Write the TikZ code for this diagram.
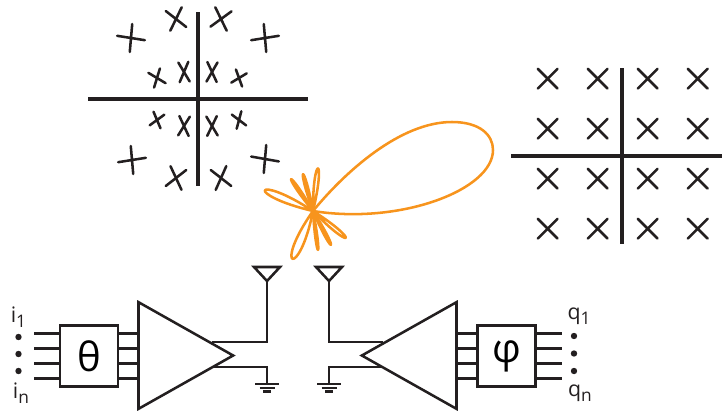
\documentclass[tikz,border=0pt]{standalone}
\usepackage{fontspec}
\setmainfont{Open Sans}
\usetikzlibrary{positioning,shapes.geometric,calc}
\definecolor{ink}{RGB}{35,31,32}
\definecolor{lobeorange}{RGB}{247,148,29}
\newcommand{\portlabel}[2]{#1\raisebox{-4pt}{\fontsize{13}{14}\selectfont #2}}
\tikzset{
  wire/.style={draw=ink,line width=1.9pt},
  axisline/.style={draw=ink,line width=2.8pt},
  crossmark/.style={draw=ink,line width=1.9pt,line cap=round},
  lobe/.style={draw=lobeorange,line width=1.9pt,line join=round},
  blockbox/.style={draw=ink,line width=1.9pt,minimum width=43.5pt,minimum height=45.5pt,
    inner sep=0pt,outer sep=0pt,font=\fontsize{30}{32}\selectfont},
  ampbox/.style={draw=ink,line width=1.9pt,isosceles triangle,isosceles triangle stretches,
    minimum width=80pt,minimum height=71pt,inner sep=0pt,outer sep=0pt},
  antbox/.style={draw=ink,line width=1.9pt,isosceles triangle,isosceles triangle stretches,
    shape border rotate=-90,minimum width=19.5pt,minimum height=10.5pt,inner sep=0pt,outer sep=0pt},
  portdot/.style={circle,fill=ink,inner sep=0pt,minimum size=4.8pt},
  portlab/.style={inner sep=0pt,font=\fontsize{16}{18}\selectfont,text=ink},
}
\begin{document}
\begin{tikzpicture}[x=0.75pt,y=-0.75pt]
  \useasboundingbox (0,0) rectangle (722,411);
  % rotated constellation
  \draw[axisline] (88,99) -- (308,99);
  \draw[axisline] (198,12) -- (198,186);
  \foreach \cx/\cy/\angA/\angB/\len in {
      131/38/9/95/14, 176/19/38/116/13, 221/19/144/64/13, 265/38/-9/85/14,
      132/160/-9/85/14, 176/178/142/65/13, 221/178/38/114/13, 265/159/10/95/14,
      157/78/31/107/10, 184/72/59/113/11, 212/72/65/120/11, 239/78/-31/70/9,
      157/120/-36/67/9, 184/126/122/65/11, 212/126/116/59/11, 239/120/37/105/9}
    \draw[crossmark,shift={(\cx,\cy)}] (\angA:\len) -- (\angA+180:\len)
      (\angB:\len) -- (\angB+180:\len);
  % square constellation
  \draw[axisline] (511,156) -- (722,156);
  \draw[axisline] (622,68) -- (622,244);
  \foreach \cx in {547.7,597.7,647.7,697.7}
    \foreach \cy in {78.7,128.7,178.7,228.7}
      \draw[crossmark,shift={(\cx,\cy)}] (45:14) -- (225:14) (135:14) -- (315:14);
  % radiation pattern
  \coordinate (lobecentre) at (313,211);
  \draw[lobe] (lobecentre) .. controls (345,172) and (400,122) .. (452,122)
    .. controls (480,122) and (493,135) .. (493,150)
    .. controls (493,190) and (400,225) .. (lobecentre);
  \foreach \tipx/\tipy/\ang in {264/190/10, 291/179/5, 303/174/5, 318/168/7,
      346/238/7, 331/245/5, 318/250/4, 292/260/12}
    \draw[lobe] (lobecentre) .. controls ($(lobecentre)!1.33!\ang:(\tipx,\tipy)$)
      and ($(lobecentre)!1.33!-\ang:(\tipx,\tipy)$) .. (lobecentre);
  % transmitter
  \node[blockbox] (thetabox) at (89,356) {θ};
  \node[ampbox,anchor=lower side] (txamp) at (138.5,355.5) {};
  \node[antbox,anchor=apex] (txant) at (267,281) {};
  \coordinate (txgnd) at (267,384);
  \foreach \off in {-22.5,-7.5,7.5,22.5} {
    \draw[wire] ($(thetabox.west)+(-26,\off)$) -- ($(thetabox.west)+(0,\off)$);
    \draw[wire] ($(thetabox.east)+(0,\off)$) -- ($(thetabox.east)+(21,\off)$);
  }
  \draw[wire] ($(txamp.apex)+(-21,-13.5)$) -| (txant.apex);
  \draw[wire] ($(txamp.apex)+(-21,11.5)$) -| (txgnd);
  \draw[wire] ($(txgnd)+(-12,0)$) -- ($(txgnd)+(12,0)$)
    ($(txgnd)+(-7.5,4)$) -- ($(txgnd)+(7.5,4)$)
    ($(txgnd)+(-4,7.5)$) -- ($(txgnd)+(4,7.5)$);
  \node[portlab] (ione) at (18.5,317) {\portlabel{i}{1}};
  \node[portdot] (idota) at (18.5,337) {};
  \node[portdot] (idotb) at (18.5,354) {};
  \node[portdot] (idotc) at (18.5,371) {};
  \node[portlab] (inn) at (21,393) {\portlabel{i}{n}};
  % receiver
  \node[blockbox] (phibox) at (506.5,356) {φ};
  \node[ampbox,shape border rotate=180,anchor=lower side] (rxamp) at (456.5,355.5) {};
  \node[antbox,anchor=apex] (rxant) at (329,281) {};
  \coordinate (rxgnd) at (329,384);
  \foreach \off in {-22.5,-7.5,7.5,22.5} {
    \draw[wire] ($(phibox.east)+(0,\off)$) -- ($(phibox.east)+(26,\off)$);
    \draw[wire] ($(phibox.west)+(0,\off)$) -- ($(phibox.west)+(-21,\off)$);
  }
  \draw[wire] ($(rxamp.apex)+(21,-13.5)$) -| (rxant.apex);
  \draw[wire] ($(rxamp.apex)+(21,11.5)$) -| (rxgnd);
  \draw[wire] ($(rxgnd)+(-12,0)$) -- ($(rxgnd)+(12,0)$)
    ($(rxgnd)+(-7.5,4)$) -- ($(rxgnd)+(7.5,4)$)
    ($(rxgnd)+(-4,7.5)$) -- ($(rxgnd)+(4,7.5)$);
  \node[portlab] (qone) at (579,316) {\portlabel{q}{1}};
  \node[portdot] (qdota) at (574,336) {};
  \node[portdot] (qdotb) at (574,353.5) {};
  \node[portdot] (qdotc) at (574,371) {};
  \node[portlab] (qnn) at (580,393) {\portlabel{q}{n}};
\end{tikzpicture}
\end{document}
